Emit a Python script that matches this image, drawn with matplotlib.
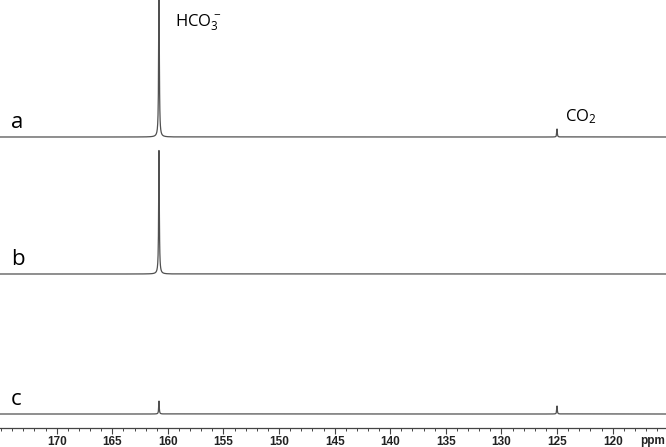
import numpy as np
import matplotlib.pyplot as plt

plt.rcParams["mathtext.fontset"] = "custom"
plt.rcParams["mathtext.rm"] = "Open Sans"

# spectra: peak positions (ppm), heights, half widths
trace_names = ["a", "b", "c"]
peak_ppm = [[160.8, 125.0], [160.8], [160.8, 125.0]]
peak_height = [[160, 8], [124], [13, 8]]
peak_hwhm = [[0.035, 0.03], [0.035], [0.03, 0.03]]
offsets = [291, 154, 14]

ticks = [170, 165, 160, 155, 150, 145, 140, 135, 130, 125, 120]

ppm = np.linspace(115.2, 175.1, 12000)

fig = plt.figure(figsize=(6.66, 4.47), dpi=100)
ax = fig.add_axes([0, 0.0425, 1, 0.9575])

for name, pos, h, w, off in zip(trace_names, peak_ppm, peak_height, peak_hwhm, offsets):
    y = np.zeros_like(ppm)
    for p, hh, ww in zip(pos, h, w):
        y += hh * ww**2 / ((ppm - p) ** 2 + ww**2)
    ax.plot(ppm, y + off, color="#505050", lw=0.9)
    ax.text(174.1, off + 4, name, fontsize=16, family="Open Sans", va="bottom", ha="left")

ax.text(159.4, 428 - 23, r"HCO$\mathregular{_3^-}$", fontsize=12, family="Open Sans", va="center")
ax.text(124.3, 291 + 20, r"CO$\mathregular{_2}$", fontsize=12, family="Open Sans", va="center")

ax.set_xlim(175.1, 115.2)
ax.set_ylim(0, 428)
ax.set_xticks(ticks)
ax.set_xticks(np.arange(116, 176, 1), minor=True)
ax.tick_params(axis="x", which="major", length=4.5, width=0.8, color="#444444",
               labelsize=8.5, pad=1)
ax.tick_params(axis="x", which="minor", length=2.5, width=0.7, color="#444444")
for lab in ax.get_xticklabels():
    lab.set_fontweight("bold")
    lab.set_family("Liberation Sans")
    lab.set_color("#222222")
ax.set_yticks([])
for s in ["top", "left", "right"]:
    ax.spines[s].set_visible(False)
ax.spines["bottom"].set_color("#444444")
ax.spines["bottom"].set_linewidth(0.9)
ax.text(116.4, -13, "ppm", fontsize=8.5, fontweight="bold", family="Liberation Sans",
        color="#222222", ha="center", va="center")

fig.savefig("out.png", dpi=100)
